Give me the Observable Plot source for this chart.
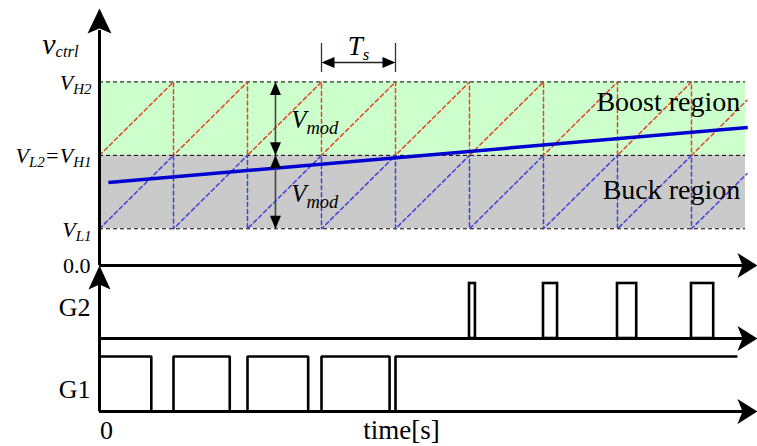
<!DOCTYPE html>
<html><head><meta charset="utf-8">
<script src="https://cdn.jsdelivr.net/npm/d3@7"></script>
<script src="https://cdn.jsdelivr.net/npm/@observablehq/plot@0.6"></script>
<style>
html,body{margin:0;padding:0;background:#fff;}
#chart{position:relative;width:757px;height:446px;overflow:hidden;background:#fff;}
#chart svg{position:absolute;left:0;top:0;}
</style>
</head><body><div id="chart"></div>
<script>
// ---------------- data ----------------
const levelLabels = ["V_{L1}", "V_{L2}=V_{H1}", "V_{H2}"];
const levelValues = [0.5, 1.5, 2.5];
const zeroLabel = "0.0";
const yAxisLabel = "v_{ctrl}";
const regionNames = ["Buck region", "Boost region"];
const regionLow = [0.5, 1.5];
const regionHigh = [1.5, 2.5];
const regionEnd = 8.73;
// carrier (sawtooth) vertices: time in switching periods, value in volts
const boostCarrierT = [0,1,1,2,2,3,3,4,4,5,5,6,6,7,7,8,8,8.75];
const boostCarrierV = [1.5,2.5,1.5,2.5,1.5,2.5,1.5,2.5,1.5,2.5,1.5,2.5,1.5,2.5,1.5,2.5,1.5,2.25];
const buckCarrierT  = [0,1,1,2,2,3,3,4,4,5,5,6,6,7,7,8,8,8.75];
const buckCarrierV  = [0.5,1.5,0.5,1.5,0.5,1.5,0.5,1.5,0.5,1.5,0.5,1.5,0.5,1.5,0.5,1.5,0.5,1.25];
// control voltage
const vctrlT = [0.12, 8.76];
const vctrlV = [1.13, 1.88];
// gate signals
const g1T     = [0,0,0.70,0.70,1,1,1.76,1.76,2,2,2.82,2.82,3,3,3.92,3.92,4,4,8.62];
const g1Level = [0,1,1,0,0,1,1,0,0,1,1,0,0,1,1,0,0,1,1];
const g2OnT  = [5.0, 6.0, 7.0, 8.0];
const g2OffT = [5.08, 6.19, 7.26, 8.30];
const gateNames = ["G2", "G1"];
// annotations
const TsStart = 3, TsEnd = 4;
const tsLabel = "T_{s}";
const vmodLabel = "V_{mod}";
const timeLabel = "time[s]";
const timeZero = "0";

// ---------------- drawing ----------------
const T_MAX = 8.892, V_MAX = 3.5, G_MAX = 1.327;
const RED = "#e2452a", BLUED = "#4141dc", CTRL = "#0000d0";
const serif = "Liberation Serif, Times New Roman, serif";
const pts = (T, V) => T.map((t, i) => ({t, v: V[i]}));
function head(p) {
  return {draw(ctx) { ctx.moveTo(p[0][0], p[0][1]); for (let i = 1; i < p.length; ++i) ctx.lineTo(p[i][0], p[i][1]); ctx.closePath(); }};
}
const upBig = head([[0,0],[12,25],[0,20],[-12,25]]);
const upG = head([[0,0],[11,24],[0,19],[-11,24]]);
const rightBig = head([[0,0],[-20,12.5],[-15,0],[-20,-12.5]]);
const leftS = head([[0,0],[13,5.5],[13,-5.5]]);
const rightS = head([[0,0],[-13,5.5],[-13,-5.5]]);
const upS = head([[0,0],[5.5,13],[-5.5,13]]);
const downS = head([[0,0],[5.5,-13],[-5.5,-13]]);
const H = (data, symbol) => Plot.dot(data, {x: "t", y: "v", symbol, fill: "black", stroke: "none"});

const regions = regionNames.map((name, i) => ({name, lo: regionLow[i], hi: regionHigh[i]}));
const base = {width: 757, height: 446, marginLeft: 99, marginRight: 0, x: {domain: [0, T_MAX], axis: null}};

const vmodT = 2.378;
const tsY = 2.765;

const topPlot = Plot.plot({
  ...base, marginTop: 8, marginBottom: 181,
  y: {domain: [0, V_MAX], axis: null},
  marks: [
    Plot.rect(regions.filter(d => d.name === "Boost region"), {x1: () => 0, x2: () => regionEnd, y1: "lo", y2: "hi", fill: "#ccffcc"}),
    Plot.rect(regions.filter(d => d.name === "Buck region"), {x1: () => 0, x2: () => regionEnd, y1: "lo", y2: "hi", fill: "#cacaca"}),
    Plot.ruleY(levelValues, {x1: () => 0, x2: () => regionEnd, stroke: "black", strokeWidth: 1, strokeDasharray: "4,3"}),
    Plot.line(pts(boostCarrierT, boostCarrierV), {x: "t", y: "v", stroke: RED, strokeWidth: 1.5, strokeDasharray: "4,3"}),
    Plot.line(pts(buckCarrierT, buckCarrierV), {x: "t", y: "v", stroke: BLUED, strokeWidth: 1.5, strokeDasharray: "4,3"}),
    Plot.line(pts(vctrlT, vctrlV), {x: "t", y: "v", stroke: CTRL, strokeWidth: 3.5, strokeLinecap: "butt"}),
    // axes
    Plot.ruleX([0], {y1: () => 0, y2: () => 3.2, stroke: "black", strokeWidth: 3}),
    Plot.ruleY([0], {x1: () => 0, x2: () => 8.75, stroke: "black", strokeWidth: 3}),
    H([{t: 0, v: V_MAX}], upBig),
    H([{t: T_MAX, v: 0}], rightBig),
    // Ts dimension
    Plot.ruleX([TsStart, TsEnd], {y1: () => 2.628, y2: () => 3.023, stroke: "#333", strokeWidth: 1.3}),
    Plot.ruleY([tsY], {x1: () => TsStart + 0.1, x2: () => TsEnd - 0.1, stroke: "#222", strokeWidth: 1.5}),
    H([{t: TsStart, v: tsY}], leftS),
    H([{t: TsEnd, v: tsY}], rightS),
    // Vmod arrows
    Plot.ruleX([{t: vmodT, lo: levelValues[1], hi: levelValues[2]}, {t: vmodT, lo: levelValues[0], hi: levelValues[1]}],
      {x: "t", y1: "lo", y2: "hi", stroke: "#444", strokeWidth: 1.6}),
    H([{t: vmodT, v: levelValues[2]}, {t: vmodT, v: levelValues[1]}], upS),
    H([{t: vmodT, v: levelValues[1]}, {t: vmodT, v: levelValues[0]}], downS),
    // texts
    Plot.text(levelLabels, {x: () => 0, y: (d, i) => levelValues[i], textAnchor: "end", lineAnchor: "bottom", dx: -8, dy: 8,
      fontFamily: serif, fontStyle: "italic", fontSize: 22, fill: "black", ariaDescription: "levels"}),
    Plot.text([zeroLabel], {x: () => 0, y: () => 0, textAnchor: "end", lineAnchor: "bottom", dx: -9, dy: 7,
      fontFamily: serif, fontSize: 22, fill: "black"}),
    Plot.text([yAxisLabel], {x: () => 0, y: () => 2.887, textAnchor: "end", lineAnchor: "bottom", dx: -21,
      fontFamily: serif, fontStyle: "italic", fontSize: 30, fill: "black", ariaDescription: "vctrl"}),
    Plot.text([tsLabel], {x: () => (TsStart + TsEnd) / 2, y: () => 2.86, textAnchor: "middle", lineAnchor: "bottom",
      fontFamily: serif, fontStyle: "italic", fontSize: 27, fill: "black", ariaDescription: "ts"}),
    Plot.text([1.866, 0.858], {x: () => 2.59, y: d => d, text: () => vmodLabel, textAnchor: "start", lineAnchor: "bottom",
      fontFamily: serif, fontStyle: "italic", fontSize: 25, fill: "black", ariaDescription: "vmod"}),
    Plot.text(regions, {x: () => 8.66, y: d => d.name === "Boost region" ? 2.11 : 0.912, text: "name", textAnchor: "end", lineAnchor: "bottom",
      fontFamily: serif, fontSize: 28, fill: "black"})
  ]
});

function gatePlot(mt, mb, marks) {
  return Plot.plot({...base, marginTop: mt, marginBottom: mb, y: {domain: [0, G_MAX], axis: null}, marks});
}
const g2Pulses = g2OnT.map((a, i) => ({a, b: g2OffT[i]}));
const g2Plot = gatePlot(265, 108, [
  Plot.ruleX([0], {y1: () => 0, y2: () => 1.2, stroke: "black", strokeWidth: 3}),
  Plot.ruleY([0], {x1: () => 0, x2: () => 8.75, stroke: "black", strokeWidth: 3}),
  Plot.rect(g2Pulses, {x1: "a", x2: "b", y1: () => 0, y2: () => 1, fill: "none", stroke: "black", strokeWidth: 2.6}),
  H([{t: 0, v: G_MAX}], upG),
  H([{t: T_MAX, v: 0}], rightBig),
  Plot.text([gateNames[0]], {x: () => 0, y: () => 0, textAnchor: "end", lineAnchor: "bottom", dx: -9, dy: -23,
    fontFamily: serif, fontSize: 26, fill: "black"})
]);
const g1Plot = gatePlot(338, 35, [
  Plot.ruleX([0], {y1: () => 0, y2: () => G_MAX, stroke: "black", strokeWidth: 3}),
  Plot.ruleY([0], {x1: () => 0, x2: () => 8.75, stroke: "black", strokeWidth: 3}),
  Plot.line(pts(g1T, g1Level), {x: "t", y: "v", stroke: "black", strokeWidth: 2.6, strokeLinejoin: "miter", strokeLinecap: "butt"}),
  H([{t: T_MAX, v: 0}], rightBig),
  Plot.text([gateNames[1]], {x: () => 0, y: () => 0, textAnchor: "end", lineAnchor: "bottom", dx: -9, dy: -14,
    fontFamily: serif, fontSize: 26, fill: "black"}),
  Plot.text([timeZero], {x: () => 0, y: () => 0, textAnchor: "middle", lineAnchor: "bottom", dx: 7, dy: 27,
    fontFamily: serif, fontSize: 26, fill: "black"}),
  Plot.text([timeLabel], {x: () => 4.08, y: () => 0, textAnchor: "middle", lineAnchor: "bottom", dy: 27,
    fontFamily: serif, fontSize: 27, fill: "black"})
]);

const chart = document.getElementById("chart");
for (const svg of [topPlot, g2Plot, g1Plot]) {
  svg.style.background = "transparent";
  svg.style.overflow = "visible";
  svg.style.maxWidth = "none";
  chart.appendChild(svg);
}

// subscripts: "X_{sub}" -> tspans
const subCfg = {levels: {ratio: 0.68, shift: 4}, vctrl: {ratio: 0.55, shift: 3}, ts: {ratio: 0.62, shift: 5}, vmod: {ratio: 0.74, shift: 6}};
chart.querySelectorAll("text").forEach(t => {
  const s = t.textContent;
  if (!s.includes("_{")) return;
  const g = t.closest("g[aria-description]");
  const cfg = (g && subCfg[g.getAttribute("aria-description")]) || {ratio: 0.68, shift: 4};
  const fs = parseFloat(getComputedStyle(t).fontSize);
  const parts = s.split(/(_\{[^}]*\})/).filter(p => p.length);
  t.textContent = "";
  let off = 0;
  for (const p of parts) {
    const ts = document.createElementNS("http://www.w3.org/2000/svg", "tspan");
    const isSub = p.startsWith("_{");
    ts.textContent = isSub ? p.slice(2, -1) : p;
    const target = isSub ? cfg.shift : 0;
    if (target !== off) { ts.setAttribute("dy", target - off); off = target; }
    if (isSub) ts.setAttribute("font-size", (fs * cfg.ratio).toFixed(1));
    t.appendChild(ts);
  }
});
</script>
</body></html>
